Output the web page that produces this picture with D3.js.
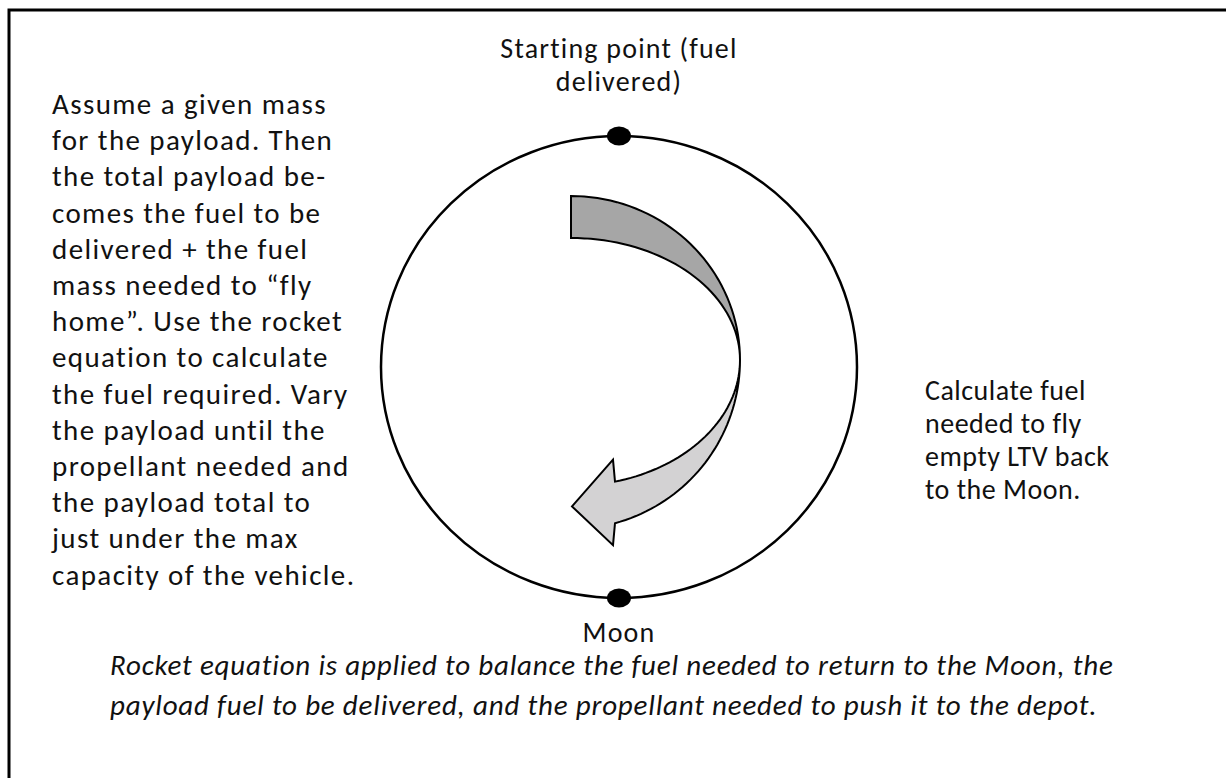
<!DOCTYPE html>
<html>
<head>
<meta charset="utf-8">
<script src="https://cdn.jsdelivr.net/npm/d3@7"></script>
<style>
  html, body { margin: 0; padding: 0; background: #fff; overflow: hidden; }
  svg text { font-family: Carlito, Lato, "Open Sans", sans-serif; fill: #111; }
</style>
</head>
<body>
<svg id="chart" width="1226" height="778"></svg>
<script>
// texts of the diagram
var startLines = ["Starting point (fuel", "delivered)"];
var moonLines = ["Moon"];
var leftLines = [
    "Assume a given mass",
    "for the payload. Then",
    "the total payload be-",
    "comes the fuel to be",
    "delivered + the fuel",
    "mass needed to \u201cfly",
    "home\u201d. Use the rocket",
    "equation to calculate",
    "the fuel required. Vary",
    "the payload until the",
    "propellant needed  and",
    "the payload total to",
    "just under the max",
    "capacity of the vehicle."
];
var rightLines = ["Calculate fuel", "needed to fly", "empty LTV back", "to the Moon."];
var noteLines = [
    "Rocket equation is applied to balance the fuel needed to return to the Moon, the",
    "payload fuel to be delivered, and the propellant needed to push it to the depot."
];

// points on the orbit, angle in degrees from top, clockwise
var nodes = [
    {name: "start", angle: 0, label: startLines, side: "above"},
    {name: "moon", angle: 180, label: moonLines, side: "below"}
];

// the two halves of the curved arrow
var arrowParts = [
    {name: "outbound", fill: "#a6a6a6"},
    {name: "return", fill: "#d3d2d3"}
];

var svg = d3.select("#chart");
var W = 1226, H = 778;

// frame (right/bottom edges run off the picture)
svg.append("rect")
    .attr("x", 9).attr("y", 10)
    .attr("width", W + 60).attr("height", H + 60)
    .attr("fill", "none")
    .attr("stroke", "#000")
    .attr("stroke-width", 3);

var orbit = {cx: 619, cy: 367, rx: 238, ry: 231};

svg.append("ellipse")
    .attr("cx", orbit.cx).attr("cy", orbit.cy)
    .attr("rx", orbit.rx).attr("ry", orbit.ry)
    .attr("fill", "none")
    .attr("stroke", "#000")
    .attr("stroke-width", 2.5);

var nodePos = function(d) {
    var a = d.angle * Math.PI / 180;
    return [orbit.cx + orbit.rx * Math.sin(a), orbit.cy - orbit.ry * Math.cos(a)];
};

svg.selectAll(".node")
    .data(nodes)
    .enter().append("ellipse")
    .attr("class", "node")
    .attr("cx", function(d){ return nodePos(d)[0]; })
    .attr("cy", function(d){ return nodePos(d)[1]; })
    .attr("rx", 12).attr("ry", 9.5)
    .attr("fill", "#000");

svg.selectAll(".nodelabel")
    .data(nodes)
    .enter().append("text")
    .attr("class", "nodelabel")
    .attr("text-anchor", "middle")
    .attr("font-size", 28)
    .attr("letter-spacing", 1.2)
    .each(function(d){
        var p = nodePos(d);
        var n = d.label.length;
        var y0 = d.side === "above" ? p[1] - 45 - (n - 1) * 33.5 : p[1] + 44;
        d3.select(this).selectAll("tspan")
            .data(d.label)
            .enter().append("tspan")
            .attr("x", p[0])
            .attr("y", function(t, i){ return y0 + i * 33.5; })
            .text(function(t){ return t; });
    });

// curved arrow
var pivot = {x: orbit.cx - 48, y: orbit.cy - 7};
var armR = 169;
var ell = function(rx, ry, a0, a1) {
    var pts = [];
    for (var i = 0; i <= 40; i++) {
        var t = (a0 + (a1 - a0) * i / 40) * Math.PI / 180;
        pts.push([pivot.x + rx * Math.cos(t), pivot.y + ry * Math.sin(t)]);
    }
    return pts;
};
var tEnd = Math.acos(44 / armR) * 180 / Math.PI;
var line = d3.line();

var shapes = {
    outbound: ell(armR, 164, -90, 0).concat(ell(armR, 122, 0, -90)),
    "return": (function(){
        var outer = ell(armR, armR, 0, tEnd);
        var inner = ell(armR, 126, tEnd, 0);
        var o = outer[outer.length - 1], n = inner[0];
        var head = [
            [o[0] - 2, o[1] + 22],
            [pivot.x + 1, (o[1] + n[1]) / 2 + 4],
            [n[0] - 2, n[1] - 22]
        ];
        return outer.concat(head, inner);
    })()
};

svg.selectAll(".arrow")
    .data(arrowParts)
    .enter().append("path")
    .attr("class", "arrow")
    .attr("d", function(d){ return line(shapes[d.name]) + "Z"; })
    .attr("fill", function(d){ return d.fill; })
    .attr("stroke", "#000")
    .attr("stroke-width", 2)
    .attr("stroke-linejoin", "miter");

// side texts
var block = function(lines, x, y0, step, size, spacing) {
    svg.append("text")
        .attr("font-size", size)
        .attr("letter-spacing", spacing)
        .selectAll("tspan")
        .data(lines)
        .enter().append("tspan")
        .attr("x", x)
        .attr("y", function(t, i){ return y0 + i * step; })
        .text(function(t){ return t; });
};
block(leftLines, 52, 114, 36.2, 29, 1.4);
block(rightLines, 925, 400, 33, 28, 0.5);

svg.append("text")
    .attr("font-size", 29)
    .attr("font-style", "italic")
    .attr("letter-spacing", 0.8)
    .selectAll("tspan")
    .data(noteLines)
    .enter().append("tspan")
    .attr("x", 110)
    .attr("y", function(t, i){ return 675 + i * 40; })
    .text(function(t){ return t; });
</script>
</body>
</html>
